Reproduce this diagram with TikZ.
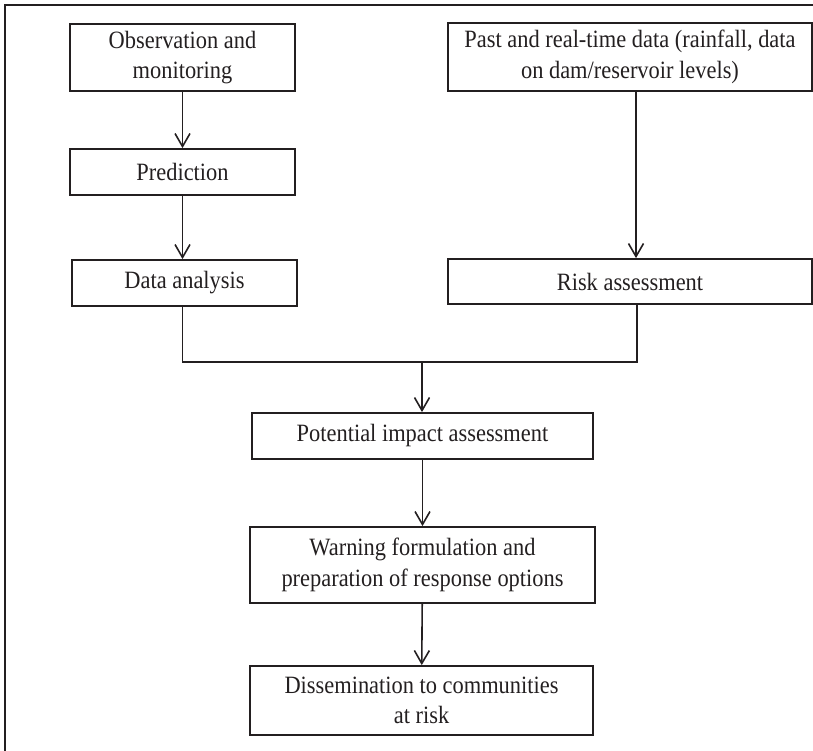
\documentclass[tikz,border=0pt]{standalone}
\usepackage{fontspec}
\setmainfont{Liberation Serif}[FakeStretch=0.9]
\usepackage{tikz}
\usetikzlibrary{arrows.meta, positioning, calc}
\definecolor{ink}{HTML}{231F20}

\begin{document}
\begin{tikzpicture}[x=1bp, y=-1bp, font=\fontsize{25}{30.5}\selectfont]

        % Setup the styles for the boxes and arrows
        \tikzset{box style/.style={rectangle,
                                   draw=ink,
                                   text=ink,
                                   line width=1.8bp,
                                   inner sep=0pt,
                                   align=center},
                 flow/.style={draw=ink,
                              line width=1.6bp,
                              -{Straight Barb[length=13bp, width=15bp, line width=1.6bp]}}}

        \useasboundingbox (0, 0) rectangle (813, 751);

        % Frame
        \draw[ink, line width=1.6bp] (5, 751) -- (5, 5) -- (813, 5);

        % Draw the boxes
        \node[box style, minimum width=225bp, minimum height=67bp] at (182.5, 57.5) (obs)  {Observation and\\monitoring};
        \node[box style, minimum width=225bp, minimum height=46bp] at (182.5, 172)  (pred) {Prediction};
        \node[box style, minimum width=225bp, minimum height=46bp] at (184.5, 283)  (data) {Data analysis};
        \node[box style, minimum width=364bp, minimum height=68bp] at (630, 57)     (past) {Past and real-time data (rainfall, data\\on dam/reservoir levels)};
        \node[box style, minimum width=364bp, minimum height=45bp] at (630, 281.5)  (risk) {Risk assessment};
        \node[box style, minimum width=341bp, minimum height=46bp] at (422.5, 436)  (pot)  {Potential impact assessment};
        \node[box style, minimum width=345bp, minimum height=76bp] at (422.5, 565)  (warn) {Warning formulation and\\preparation of response options};
        \node[box style, minimum width=343bp, minimum height=69bp] at (421.5, 700.5) (diss) {Dissemination to communities\\at risk};

        % Merge point below the two columns
        \coordinate (join) at (422, 362);

        % Connect the boxes
        \draw[flow] (obs) -- (pred);
        \draw[flow] (pred) -- (pred |- data.north);
        \draw[flow] ([xshift=6bp]past.south) -- ([xshift=6bp]risk.north);
        \draw[ink, line width=1.6bp] (data.south -| pred) |- (join)
                                     -| ([xshift=7bp]risk.south);
        \draw[flow] (join) -- (join |- pot.north);
        \draw[flow] (pot) -- (warn);
        \draw[flow] (warn) -- (diss);
    \end{tikzpicture}
\end{document}
